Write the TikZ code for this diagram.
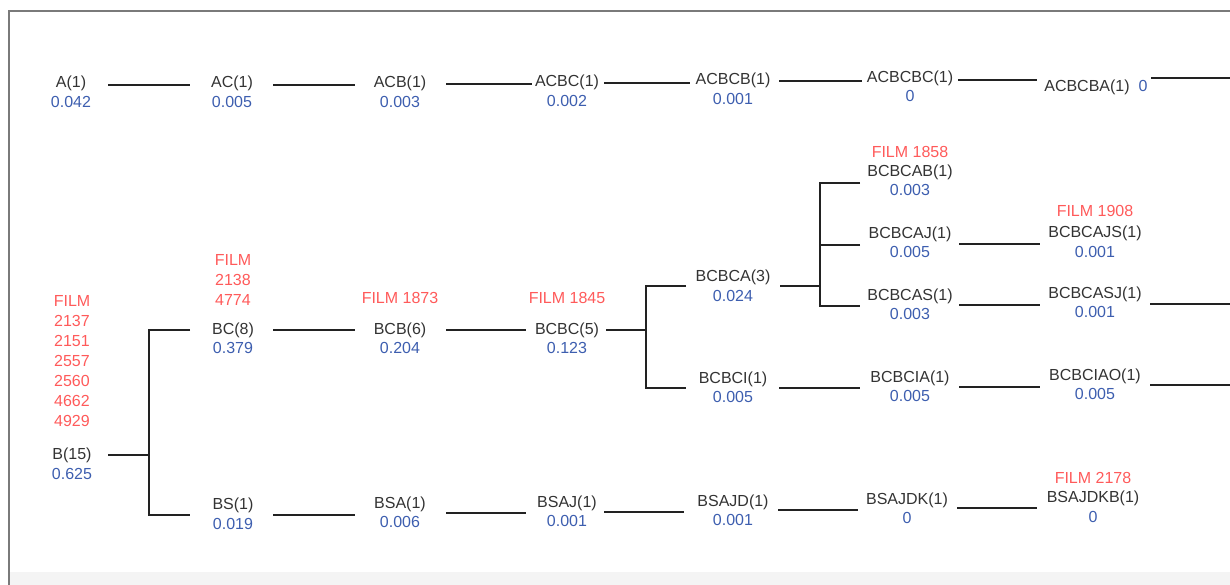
\documentclass[tikz,border=0pt]{standalone}
\usepackage{fontspec}
\setmainfont{Liberation Sans}
\definecolor{nmc}{HTML}{333333}
\definecolor{valc}{HTML}{3D5EAF}
\definecolor{filmc}{HTML}{FF5A5A}
\definecolor{lnc}{HTML}{222222}
\definecolor{framec}{HTML}{7A7A7A}
\definecolor{stripc}{HTML}{F4F4F4}
\begin{document}
\begin{tikzpicture}[x=1pt,y=-1pt,
  every node/.style={inner sep=0pt, font=\fontsize{16}{20}\selectfont},
  nm/.style={text=nmc, text height=11.5pt, text depth=3.5pt},
  val/.style={text=valc, text height=11.5pt, text depth=3.5pt},
  film/.style={text=filmc, align=center},
  ln/.style={draw=lnc, line width=2pt}]
\useasboundingbox (0,0) rectangle (1230,585);
\fill[stripc] (10,572) rectangle (1230,585);
\draw[framec, line width=2pt] (9,585) -- (9,11) -- (1230,11);

% ---- top row
\node[nm] (A) at (71,84) {A(1)};
\node[val] (Av) at ([yshift=-20pt]A.center) {0.042};
\node[nm] (AC) at (232,84) {AC(1)};
\node[val] (ACv) at ([yshift=-20pt]AC.center) {0.005};
\node[nm] (ACB) at (400,84) {ACB(1)};
\node[val] (ACBv) at ([yshift=-20pt]ACB.center) {0.003};
\node[nm] (ACBC) at (567,83) {ACBC(1)};
\node[val] (ACBCv) at ([yshift=-20pt]ACBC.center) {0.002};
\node[nm] (ACBCB) at (733,81) {ACBCB(1)};
\node[val] (ACBCBv) at ([yshift=-20pt]ACBCB.center) {0.001};
\node[nm] (ACBCBC) at (910,79) {ACBCBC(1)};
\node[val] (ACBCBCv) at ([yshift=-19pt]ACBCBC.center) {0};
\node[nm] (ACBCBA) at (1087,88) {ACBCBA(1)};
\node[val] (ACBCBAv) at (1143,88) {0};
\coordinate (endA) at (1230,78);

\draw[ln] ([xshift=37pt,yshift=-1pt]A.center) -- ([xshift=-42pt,yshift=-1pt]AC.center);
\draw[ln] ([xshift=41pt,yshift=-1pt]AC.center) -- ([xshift=-45pt,yshift=-1pt]ACB.center);
\draw[ln] ([xshift=46pt]ACB.center) -- ([xshift=-35pt,yshift=-1pt]ACBC.center);
\draw[ln] ([xshift=37pt]ACBC.center) -- ([xshift=-43pt,yshift=-2pt]ACBCB.center);
\draw[ln] ([xshift=46pt]ACBCB.center) -- ([xshift=-48pt,yshift=-2pt]ACBCBC.center);
\draw[ln] ([xshift=48pt,yshift=-1pt]ACBCBC.center) -- ([xshift=-50pt,yshift=8pt]ACBCBA.center);
\draw[ln] ([xshift=8pt,yshift=10pt]ACBCBAv.center) -- (endA);

% ---- lower tree
\node[nm] (B) at (72,455) {B(15)};
\node[val] (Bv) at ([yshift=-20pt]B.center) {0.625};
\node[film] (fB) at (72,361) {FILM\\2137\\2151\\2557\\2560\\4662\\4929};

\node[nm] (BC) at (233,330) {BC(8)};
\node[val] (BCv) at ([yshift=-19pt]BC.center) {0.379};
\node[film] (fBC) at (233,280) {FILM\\2138\\4774};
\node[nm] (BS) at (233,505) {BS(1)};
\node[val] (BSv) at ([yshift=-20pt]BS.center) {0.019};

\node[nm] (BCB) at (400,330) {BCB(6)};
\node[val] (BCBv) at ([yshift=-19pt]BCB.center) {0.204};
\node[film] (fBCB) at (400,298) {FILM 1873};
\node[nm] (BSA) at (400,504) {BSA(1)};
\node[val] (BSAv) at ([yshift=-19pt]BSA.center) {0.006};

\node[nm] (BCBC) at (567,330) {BCBC(5)};
\node[val] (BCBCv) at ([yshift=-19pt]BCBC.center) {0.123};
\node[film] (fBCBC) at (567,298) {FILM 1845};
\node[nm] (BSAJ) at (567,503) {BSAJ(1)};
\node[val] (BSAJv) at ([yshift=-19pt]BSAJ.center) {0.001};

\node[nm] (BCBCA) at (733,277) {BCBCA(3)};
\node[val] (BCBCAv) at ([yshift=-20pt]BCBCA.center) {0.024};
\node[nm] (BCBCI) at (733,379) {BCBCI(1)};
\node[val] (BCBCIv) at ([yshift=-19pt]BCBCI.center) {0.005};
\node[nm] (BSAJD) at (733,502) {BSAJD(1)};
\node[val] (BSAJDv) at ([yshift=-19pt]BSAJD.center) {0.001};

\node[nm] (BCBCAB) at (910,173) {BCBCAB(1)};
\node[val] (BCBCABv) at ([yshift=-19pt]BCBCAB.center) {0.003};
\node[film] (fBCBCAB) at (910,152) {FILM 1858};
\node[nm] (BCBCAJ) at (910,235) {BCBCAJ(1)};
\node[val] (BCBCAJv) at ([yshift=-19pt]BCBCAJ.center) {0.005};
\node[nm] (BCBCAS) at (910,296) {BCBCAS(1)};
\node[val] (BCBCASv) at ([yshift=-19pt]BCBCAS.center) {0.003};
\node[nm] (BCBCIA) at (910,378) {BCBCIA(1)};
\node[val] (BCBCIAv) at ([yshift=-19pt]BCBCIA.center) {0.005};
\node[nm] (BSAJDK) at (907,500) {BSAJDK(1)};
\node[val] (BSAJDKv) at ([yshift=-19pt]BSAJDK.center) {0};

\node[nm] (BCBCAJS) at (1095,233) {BCBCAJS(1)};
\node[val] (BCBCAJSv) at ([yshift=-20pt]BCBCAJS.center) {0.001};
\node[film] (fBCBCAJS) at (1095,211) {FILM 1908};
\node[nm] (BCBCASJ) at (1095,294) {BCBCASJ(1)};
\node[val] (BCBCASJv) at ([yshift=-19pt]BCBCASJ.center) {0.001};
\node[nm] (BCBCIAO) at (1095,376) {BCBCIAO(1)};
\node[val] (BCBCIAOv) at ([yshift=-19pt]BCBCIAO.center) {0.005};
\node[nm] (BSAJDKB) at (1093,498) {BSAJDKB(1)};
\node[val] (BSAJDKBv) at ([yshift=-20pt]BSAJDKB.center) {0};
\node[film] (fBSAJDKB) at (1093,478) {FILM 2178};

% junctions and free ends
\coordinate (j1) at (149,455);
\coordinate (j2) at (646,330);
\coordinate (j3) at (820,286);
\coordinate (aj) at ([xshift=-50pt,yshift=-10pt]BCBCAJ.center);
\coordinate (endS) at (1230,304);
\coordinate (endI) at (1230,385);

% connectors
\draw[ln] ([xshift=36pt]B.center) -- (j1);
\draw[ln] ([xshift=-43pt]BC.center) -| (j1) |- ([xshift=-43pt,yshift=-10pt]BS.center);
\draw[ln] ([xshift=40pt]BC.center) -- ([xshift=-45pt]BCB.center);
\draw[ln] ([xshift=40pt,yshift=-10pt]BS.center) -- ([xshift=-45pt,yshift=-11pt]BSA.center);
\draw[ln] ([xshift=46pt]BCB.center) -- ([xshift=-41pt]BCBC.center);
\draw[ln] ([xshift=46pt,yshift=-9pt]BSA.center) -- ([xshift=-41pt,yshift=-10pt]BSAJ.center);
\draw[ln] ([xshift=39pt]BCBC.center) -- (j2);
\draw[ln] ([xshift=-47pt,yshift=-9pt]BCBCA.center) -| (j2) |- ([xshift=-47pt,yshift=-9pt]BCBCI.center);
\draw[ln] ([xshift=37pt,yshift=-9pt]BSAJ.center) -- ([xshift=-49pt,yshift=-10pt]BSAJD.center);
\draw[ln] ([xshift=47pt,yshift=-9pt]BCBCA.center) -- (j3);
\draw[ln] ([xshift=-50pt,yshift=-10pt]BCBCAB.center) -| (j3) |- ([xshift=-50pt,yshift=-10pt]BCBCAS.center);
\draw[ln] (aj) -- (j3 |- aj);
\draw[ln] ([xshift=46pt,yshift=-9pt]BCBCI.center) -- ([xshift=-50pt,yshift=-10pt]BCBCIA.center);
\draw[ln] ([xshift=45pt,yshift=-8pt]BSAJD.center) -- ([xshift=-49pt,yshift=-10pt]BSAJDK.center);
\draw[ln] ([xshift=49pt,yshift=-9pt]BCBCAJ.center) -- ([xshift=-55pt,yshift=-11pt]BCBCAJS.center);
\draw[ln] ([xshift=49pt,yshift=-9pt]BCBCAS.center) -- ([xshift=-55pt,yshift=-11pt]BCBCASJ.center);
\draw[ln] ([xshift=49pt,yshift=-9pt]BCBCIA.center) -- ([xshift=-55pt,yshift=-11pt]BCBCIAO.center);
\draw[ln] ([xshift=50pt,yshift=-8pt]BSAJDK.center) -- ([xshift=-56pt,yshift=-10pt]BSAJDKB.center);
\draw[ln] ([xshift=55pt,yshift=-10pt]BCBCASJ.center) -- (endS);
\draw[ln] ([xshift=55pt,yshift=-9pt]BCBCIAO.center) -- (endI);
\end{tikzpicture}
\end{document}
